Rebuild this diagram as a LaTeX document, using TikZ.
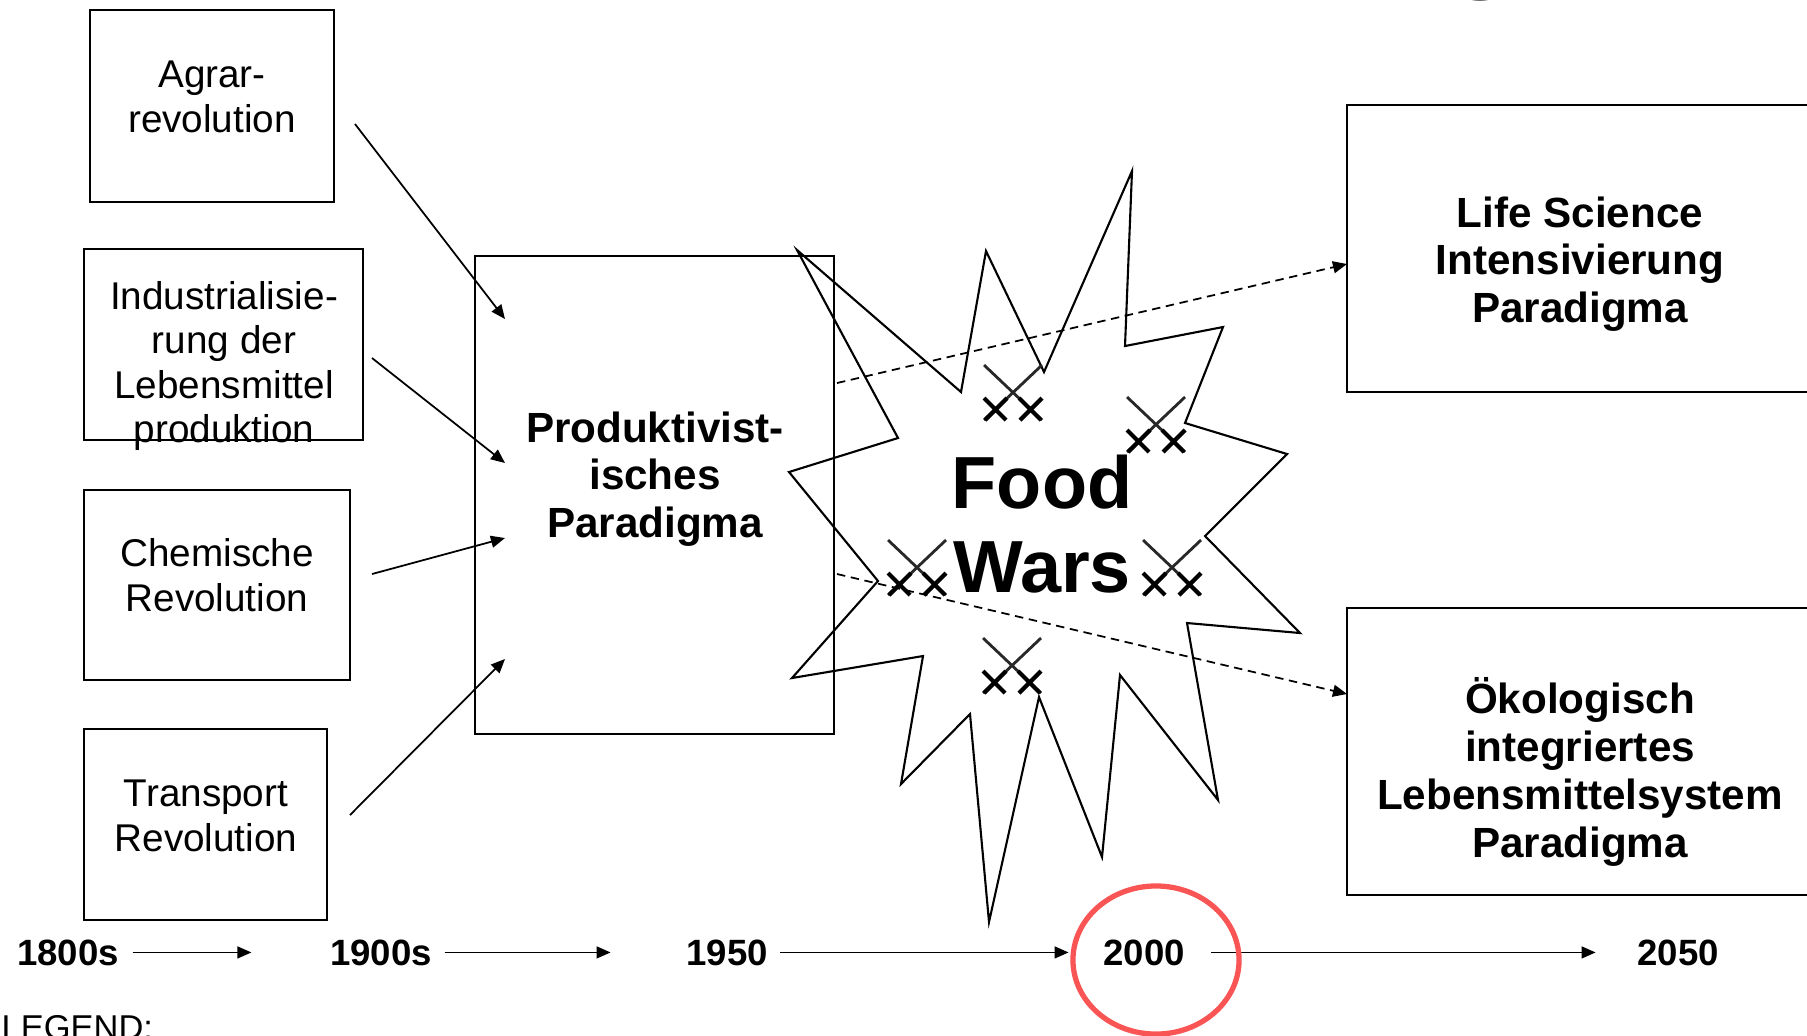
\documentclass[tikz,border=0pt]{standalone}
\usepackage{fontspec}
\setmainfont{Liberation Sans}
\usetikzlibrary{arrows.meta}
\definecolor{ringred}{RGB}{250,85,85}
\definecolor{swordgray}{RGB}{40,40,40}
\begin{document}
\begin{tikzpicture}[x=0.01cm, y=-0.01cm,
  box/.style={draw, line width=0.6pt},
  txt/.style={align=center, inner sep=0pt, font=\fontsize{11}{12.65}\selectfont},
  bold/.style={align=center, inner sep=0pt, font=\fontsize{12}{13.6}\selectfont\bfseries},
  year/.style={inner sep=0pt, font=\fontsize{10.4}{12}\selectfont\bfseries},
  feed/.style={draw, line width=0.5pt, -{Triangle[length=4pt, width=3.4pt]}},
  fork/.style={feed, dash pattern=on 2.4pt off 1.6pt}]
\useasboundingbox (0,0) rectangle (1807,1035);
\node[anchor=base, inner sep=0pt, font=\fontsize{37}{40}\selectfont\bfseries] (titleg) at (1482,-27) {g};
\draw[box] (90,10) rectangle (334,202);
\node[txt] (agrar) at (212,97) {Agrar-\\revolution};
\draw[box] (84,249) rectangle (363,440);
\node[txt] (indust) at (224,366) {Industrialisie-\\rung der\\Lebensmittel\\produktion};
\draw[box] (84,490) rectangle (350,680);
\node[txt] (chem) at (217,575) {Chemische\\Revolution};
\draw[box] (84,729) rectangle (327,920);
\node[txt] (trans) at (206,816) {Transport\\Revolution};
\draw[box] (475,256) rectangle (834,734);
\node[bold] (prod) at (655,479) {Produktivist-\\isches\\Paradigma};
\draw[box] (1347,105) rectangle (1813,392);
\node[bold] (life) at (1580,264) {Life Science\\Intensivierung\\Paradigma};
\draw[box] (1347,608) rectangle (1813,895);
\node[bold] (oeko) at (1580,772) {Ökologisch\\integriertes\\Lebensmittelsystem\\Paradigma};
\coordinate (a1) at (355,124);
\coordinate (b1) at (505,319);
\coordinate (a2) at (372,358);
\coordinate (b2) at (505,463);
\coordinate (a3) at (372,574);
\coordinate (b3) at (505,538);
\coordinate (a4) at (350,815);
\coordinate (b4) at (505,659);
\path[feed] (a1) -- (b1);
\path[feed] (a2) -- (b2);
\path[feed] (a3) -- (b3);
\path[feed] (a4) -- (b4);
\draw[line width=0.6pt] (797,250) -- (961,392) -- (986,251) -- (1044,372) -- (1132,171)
  -- (1125,346) -- (1223,327) -- (1185,423) -- (1287,454) -- (1205,536) -- (1300,633)
  -- (1187,623) -- (1218,800) -- (1120,675) -- (1102,857) -- (1039,697) -- (989,922)
  -- (970,714) -- (901,784) -- (923,656) -- (792,678) -- (878,581) -- (789,472)
  -- (898,438) -- cycle;
\coordinate (c1) at (837,383);
\coordinate (d1) at (1347,264);
\coordinate (c2) at (837,574);
\coordinate (d2) at (1347,694);
\path[fork] (c1) -- (d1);
\path[fork] (c2) -- (d2);
\node[align=center, inner sep=0pt, font=\fontsize{21}{23.9}\selectfont\bfseries] (war) at (1042,524) {Food\\Wars};
\foreach \sx/\sy in {1013/393, 1156/425, 917/568, 1172/568, 1012/666} {
  \draw[swordgray, line width=0.8pt] (\sx-29,\sy-28) -- (\sx+29,\sy+27)
    (\sx+29,\sy-28) -- (\sx-29,\sy+27);
  \draw[black, line width=1.2pt] (\sx-29,\sy+5) -- (\sx-7,\sy+27)
    (\sx-6,\sy+5) -- (\sx-28,\sy+27)
    (\sx+7,\sy+27) -- (\sx+29,\sy+5)
    (\sx+6,\sy+5) -- (\sx+28,\sy+27);
}
\node[year, anchor=base] (t1800) at (68,965) {1800s};
\node[year, anchor=base] (t1900) at (381,965) {1900s};
\node[year, anchor=base] (t1950) at (727,965) {1950};
\node[year, anchor=base] (t2000) at (1144,965) {2000};
\node[year, anchor=base] (t2050) at (1678,965) {2050};
\path[feed, shorten <=0.13cm, shorten >=0.78cm] (t1800) -- (t1900);
\path[feed, shorten <=0.12cm, shorten >=0.75cm] (t1900) -- (t1950);
\path[feed, shorten <=0.12cm, shorten >=0.34cm] (t1950) -- (t2000);
\path[feed, shorten <=0.26cm, shorten >=0.41cm] (t2000) -- (t2050);
\draw[ringred, line width=1.5pt] (1156,960) ellipse [x radius=0.83cm, y radius=0.74cm];
\node[anchor=base west, inner sep=0pt, font=\fontsize{9.8}{11}\selectfont] (legend) at (1,1039) {LEGEND:};
\end{tikzpicture}
\end{document}
